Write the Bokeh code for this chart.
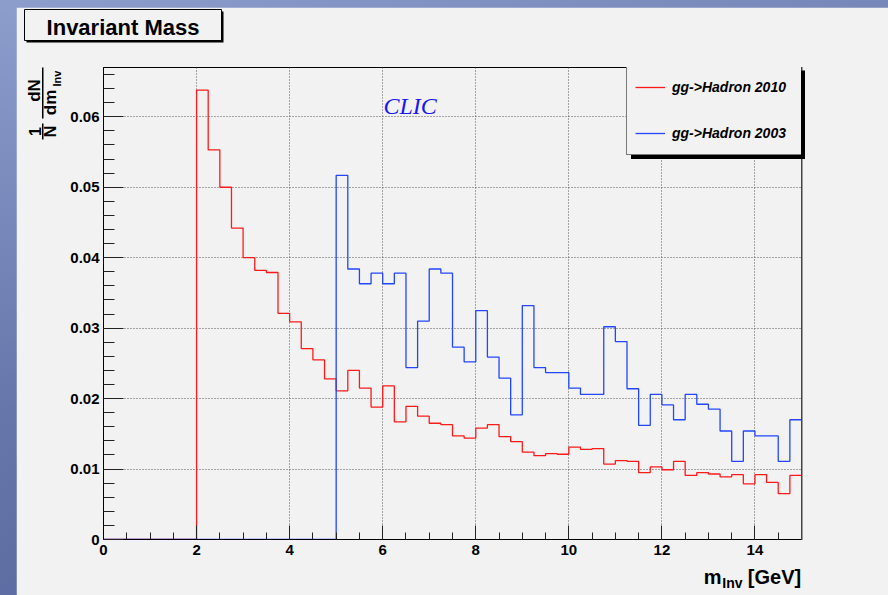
import numpy as np
from bokeh.plotting import figure
from bokeh.models import Range1d, FixedTicker, Legend, LegendItem
from bokeh.core.properties import value
from bokeh.layouts import column
from bokeh.embed import file_html
from bokeh.resources import INLINE

# ---------------- data ----------------
bin_width = 0.25
x_min, x_max = 0.0, 15.0

red_2010 = [0, 0, 0, 0, 0, 0, 0, 0,
            0.0638, 0.0553, 0.0500, 0.0442, 0.0400, 0.0382, 0.0379, 0.0321,
            0.0309, 0.0271, 0.0255, 0.0228, 0.0211, 0.0240, 0.0215, 0.0188,
            0.0218, 0.0167, 0.0189, 0.0175, 0.0165, 0.0163, 0.0147, 0.0144,
            0.0158, 0.0163, 0.0146, 0.0139, 0.0124, 0.0119, 0.0122, 0.0121,
            0.0131, 0.0128, 0.0129, 0.0107, 0.0112, 0.0111, 0.0095, 0.0103,
            0.0099, 0.0111, 0.0091, 0.0095, 0.0093, 0.0089, 0.0092, 0.0079,
            0.0092, 0.0081, 0.0065, 0.0091]

blue_2003 = [0] * 20 + [
            0.0517, 0.0384, 0.0363, 0.0378, 0.0363, 0.0378, 0.0244, 0.0310,
            0.0384, 0.0378, 0.0273, 0.0252, 0.0325, 0.0259, 0.0229, 0.0177,
            0.0332, 0.0244, 0.0237, 0.0237, 0.0215, 0.0206, 0.0206, 0.0302,
            0.0281, 0.0214, 0.0162, 0.0206, 0.0191, 0.0170, 0.0206, 0.0192,
            0.0185, 0.0154, 0.0111, 0.0154, 0.0147, 0.0147, 0.0111, 0.0170]

series_labels = ["gg->Hadron 2010", "gg->Hadron 2003"]

x_major = [0, 2, 4, 6, 8, 10, 12, 14]
x_labels = ["0", "2", "4", "6", "8", "10", "12", "14"]
y_major = [0, 0.01, 0.02, 0.03, 0.04, 0.05, 0.06]
y_labels = ["0", "0.01", "0.02", "0.03", "0.04", "0.05", "0.06"]
y_max = 0.067

# ---------------- figure ----------------
W, H = 872, 588          # figure size (page offset 16, 7)
OFFX, OFFY = 16, 7
BL, BR, BT, BB = 87, 87, 60, 56
BG = "#f2f2f2"
FONT = value("Liberation Sans")

p = figure(width=W, height=H, x_range=Range1d(x_min, x_max),
           y_range=Range1d(0, y_max), output_backend="svg",
           toolbar_location=None, min_border_left=BL, min_border_right=BR,
           min_border_top=BT, min_border_bottom=BB)
p.margin = (OFFY, 0, 0, OFFX)
p.background_fill_color = BG
p.border_fill_color = BG
p.outline_line_color = "black"
p.outline_line_width = 1

# page px -> data helpers (for annotation placement)
FX0 = OFFX + BL
FX1 = OFFX + W - BR
FY1 = OFFY + BT
FY0 = OFFY + H - BB


def dx(px):
    return x_min + (px - FX0) / (FX1 - FX0) * (x_max - x_min)


def dy(py):
    return (FY0 - py) / (FY0 - FY1) * y_max


def box(l, r, t, b, fill, line=None, level="overlay"):
    p.quad(left=[dx(l)], right=[dx(r)], top=[dy(t)], bottom=[dy(b)],
           fill_color=fill, fill_alpha=1, line_color=line, line_width=1,
           level=level)


def txt(s, px, py, size, style="bold", align="left", base="alphabetic",
        angle=0.0, font=FONT, color="black"):
    if base == "alphabetic":
        py -= 0.3 * float(size[:-2])   # compensate baseline placement
    p.text(x=[dx(px)], y=[dy(py)], text=[s], text_font=font,
           text_font_style=style, text_font_size=size, text_align=align,
           text_baseline=base, angle=angle, text_color=color,
           level="overlay")


# ticks / axes
n_bins = len(red_2010)
edges = [x_min + i * bin_width for i in range(n_bins + 1)]
xt = FixedTicker(ticks=x_major, minor_ticks=[i * 0.5 for i in range(31)])
yt = FixedTicker(ticks=y_major, minor_ticks=[i * 0.002 for i in range(34)])
p.xaxis.ticker = xt
p.yaxis.ticker = yt
p.xaxis.major_label_overrides = dict(zip(x_major, x_labels))
p.yaxis.major_label_overrides = dict(zip(y_major, y_labels))

for ax in (p.xaxis[0], p.yaxis[0]):
    ax.axis_line_color = "black"
    ax.major_tick_out = 0
    ax.minor_tick_out = 0
    ax.major_tick_line_color = "#222222"
    ax.minor_tick_line_color = "#222222"
    ax.major_label_text_font = "Liberation Sans"
    ax.major_label_text_font_style = "bold"
    ax.major_label_text_font_size = "15px"
    ax.major_label_text_color = "black"
p.xaxis.major_tick_in = 14
p.xaxis.minor_tick_in = 7
p.yaxis.major_tick_in = 20
p.yaxis.minor_tick_in = 11
p.xaxis.major_label_standoff = 5
p.yaxis.major_label_standoff = 4

for g in (p.xgrid[0], p.ygrid[0]):
    g.grid_line_color = "#555555"
    g.grid_line_dash = "1 2"
    g.grid_line_width = 1
p.xgrid.ticker = xt
p.ygrid.ticker = yt

# histograms (step outlines)
r_red = p.step(edges, red_2010 + [red_2010[-1]], mode="after",
               line_color="#ff1a1a", line_width=1.3)
r_blue = p.step(edges, blue_2003 + [blue_2003[-1]], mode="after",
                line_color="#2246ff", line_width=1.3)

# right frame edge (ROOT draws it darker/thicker)
box(800.5, 802, 66.5, 539.5, "#444444", level="annotation")

# legend shadow (drawn before the legend) and legend
box(630.5, 804.5, 70, 158.5, "black", level="annotation")
leg = Legend(items=[LegendItem(label=series_labels[0], renderers=[r_red]),
                    LegendItem(label=series_labels[1], renderers=[r_blue])],
             location=(int(626.7 - FX0), int(FY0 - 155)), margin=0,
             padding=8, spacing=20, label_height=26, glyph_height=26,
             glyph_width=30, label_standoff=7, label_width=121,
             label_text_font="Liberation Sans",
             label_text_font_style="bold italic",
             label_text_font_size="14px", label_text_color="black",
             border_line_color="black",
             border_line_width=1, background_fill_color=BG,
             background_fill_alpha=1)
p.add_layout(leg)

# CLIC tag
txt("CLIC", 383, 112.5, "24px", style="italic",
    font=value("Liberation Serif"), color="#1a1af0")

# title box
box(26, 223, 11, 42, "black")
box(24, 221, 9, 40, BG, line="black")
txt("Invariant Mass", 122.5, 33.3, "22px", align="center")

# x-axis title: m_Inv [GeV]
txt("[GeV]", 800.7, 582, "20px", align="right")
txt("Inv", 742, 587, "14px", align="right")
txt("m", 721, 582, "20px", align="right")

# y-axis title: 1/N dN/dm_Inv (rotated)
ang = np.pi / 2
for s, cx, cy, fs in [("1", 34, 131, "16px"), ("N", 50, 131, "16px"),
                      ("dN", 34, 90, "17px"), ("dm", 50, 102, "17px"),
                      ("Inv", 56, 78, "11px")]:
    txt(s, cx, cy, fs, align="center", base="middle", angle=ang)
box(41.5, 43, 123, 139, "black")
box(41.5, 43, 67, 118, "black")

root = column(p, width=888, height=595,
              styles={"background": "linear-gradient(165deg, #8d9dcc 0%, #6676aa 50%, #52629a 100%)"})

open("out.html", "w").write(file_html(root, INLINE))
